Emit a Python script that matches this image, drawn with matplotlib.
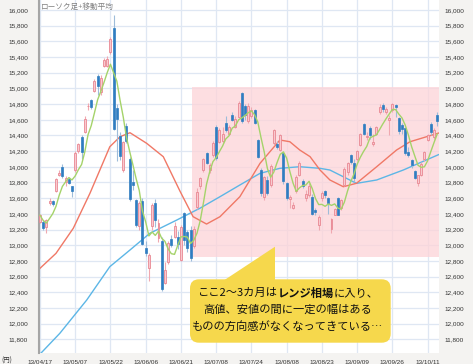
import matplotlib
matplotlib.use('Agg')
import matplotlib.pyplot as plt
from matplotlib.patches import FancyBboxPatch, Polygon, Rectangle
import numpy as np

plt.rcParams['font.family'] = ['Liberation Sans', 'Noto Sans CJK JP', 'DejaVu Sans']

# 日足データ (2013/04/17 ～ 2013/10/17)
tick_labels = ['13/04/17', '13/05/07', '13/05/22', '13/06/06', '13/06/21', '13/07/08',
               '13/07/24', '13/08/08', '13/08/23', '13/09/09', '13/09/26', '13/10/11']

opens = [13300, 13300, 13230, 13540, 13560, 13690, 13900, 14000, 13800, 13850,
         13750, 13960, 14200, 14380, 14450, 14770, 14850, 14970, 15155, 14960,
         15290, 15290, 15470, 15770, 14750, 14390, 13960, 14520, 14100, 13810,
         13580, 13240, 13570, 12960, 12710, 13240, 13540, 13090, 13050, 12520,
         12780, 13080, 13110, 13110, 12810, 13415, 13170, 13190, 12990, 13490,
         13750, 13960, 14170, 13960, 14150, 14510, 14320, 14330, 14560, 14420,
         14660, 14510, 14640, 14940, 14770, 14580, 14650, 14720, 14340, 13960,
         13620, 13830, 13770, 14300, 14290, 14220, 14170, 13790, 13590, 13480,
         13690, 13900, 13820, 13600, 13640, 13620, 13450, 13260, 13600, 13690,
         13600, 13210, 13390, 13600, 13480, 13770, 13930, 14150, 14050, 14100,
         14280, 14550, 14380, 14500, 14290, 14420, 14700, 14790, 14700, 14600,
         14720, 14790, 14620, 14530, 14500, 14190, 14090, 13950, 13790, 13900,
         14100, 14340, 14550, 14380, 14660]
highs = [13400, 13320, 13340, 13600, 13580, 13860, 13960, 14030, 13880, 13870,
         13760, 14200, 14310, 14400, 14650, 14820, 14870, 15120, 15180, 15170,
         15390, 15410, 15650, 15942, 14800, 14440, 14330, 14560, 14130, 13960,
         13590, 13560, 13600, 13050, 12900, 13540, 13590, 13340, 13100, 12780,
         13060, 13130, 13300, 13180, 13260, 13430, 13200, 13240, 13240, 13730,
         13870, 14110, 14190, 14050, 14330, 14530, 14500, 14510, 14650, 14530,
         14700, 14650, 14840, 14953, 14800, 14810, 14760, 14740, 14360, 13980,
         13880, 13880, 14030, 14480, 14330, 14420, 14180, 13800, 13640, 13550,
         13890, 14070, 13840, 13700, 13790, 13650, 13470, 13380, 13690, 13700,
         13620, 13350, 13480, 13620, 13590, 14000, 14060, 14160, 14100, 14220,
         14430, 14560, 14450, 14520, 14420, 14520, 14800, 14810, 14760, 14660,
         14817, 14800, 14640, 14560, 14510, 14250, 14100, 13960, 13900, 14060,
         14200, 14420, 14570, 14500, 14700]
lows = [13280, 13190, 13150, 13510, 13500, 13680, 13880, 13860, 13760, 13780,
        13620, 13940, 14180, 14100, 14430, 14720, 14740, 14950, 14920, 14920,
        15270, 15270, 15440, 14470, 14075, 14090, 13930, 14300, 13560, 13700,
        13230, 13200, 13000, 12860, 12548, 13200, 13230, 13040, 12415, 12500,
        12760, 12980, 13090, 12950, 12800, 13000, 12910, 12800, 12960, 13460,
        13720, 13940, 14040, 13920, 14130, 14090, 14300, 14300, 14450, 14400,
        14580, 14490, 14620, 14560, 14600, 14560, 14620, 14540, 14110, 13630,
        13580, 13640, 13740, 14280, 14230, 14200, 13780, 13580, 13480, 13460,
        13670, 13880, 13730, 13560, 13620, 13380, 13390, 13190, 13570, 13600,
        13400, 13150, 13380, 13380, 13450, 13750, 13900, 14040, 13800, 14080,
        14270, 14400, 14340, 14350, 14270, 14400, 14680, 14700, 14680, 14400,
        14700, 14640, 14420, 14420, 14150, 14120, 13990, 13840, 13750, 13880,
        14080, 14330, 14400, 14360, 14520]
closes = [13382, 13220, 13316, 13568, 13529, 13843, 13926, 13884, 13860, 13799,
          13694, 14180, 14285, 14191, 14607, 14782, 14758, 15096, 15037, 15138,
          15360, 15381, 15627, 14483, 14612, 14142, 14311, 14326, 13589, 13774,
          13262, 13533, 13014, 12904, 12877, 13514, 13317, 13289, 12445, 12686,
          13033, 13007, 13245, 13014, 13230, 13062, 12969, 12834, 13213, 13677,
          13852, 14099, 14055, 14018, 14309, 14109, 14472, 14416, 14472, 14506,
          14599, 14615, 14808, 14589, 14658, 14778, 14731, 14562, 14129, 13661,
          13869, 13668, 14005, 14466, 14258, 14401, 13824, 13605, 13615, 13519,
          13869, 14050, 13752, 13650, 13758, 13396, 13424, 13365, 13660, 13636,
          13542, 13338, 13459, 13389, 13572, 13978, 14053, 14065, 13861, 14205,
          14423, 14425, 14387, 14404, 14311, 14505, 14766, 14742, 14732, 14620,
          14799, 14760, 14455, 14484, 14170, 14157, 14024, 13853, 13894, 14037,
          14194, 14404, 14441, 14467, 14586]
prior_closes = [13549, 13485, 13275, 13221]

# 25日・75日移動平均 (チャートから読み取り)
ma25_pos = [0, 5, 10.4, 15.6, 21.8, 25, 28.1, 33.3, 38.5, 43.7, 47.8, 52, 56.2,
            62.4, 68.7, 74.9, 78, 81.1, 84.3, 87.4, 90.5, 94.7, 98.8, 105.1,
            111.3, 115.5, 124.4]
ma25_val = [12705, 12896, 13216, 13662, 14256, 14384, 14435, 14300, 14129, 13690,
            13364, 13270, 13364, 13619, 14045, 14342, 14320, 14214, 14130, 13960,
            13832, 13746, 13790, 14001, 14214, 14320, 14430]
ma75_pos = [0, 6.2, 14.6, 21.8, 28.1, 34.3, 42.7, 46.8, 49.9, 56.2, 62.4, 68.7,
            74.9, 81.1, 87.4, 90.5, 98.8, 105.1, 113.4, 124.4]
ma75_val = [11610, 11876, 12301, 12726, 12939, 13152, 13321, 13407, 13471, 13619,
            13768, 13917, 13981, 14001, 13981, 13959, 13789, 13832, 13959, 14155]

range_box = (47.5, 124.4, 12850, 15020)

W, H = 473, 364
fig = plt.figure(figsize=(W / 100, H / 100), dpi=100, facecolor='#f4f3f1')
ax = fig.add_axes([39 / W, 11 / H, 399.5 / W, 353 / H])
ax.set_facecolor('white')

x = np.arange(len(closes))
o, h, l, c = (np.array(v, dtype=float) for v in (opens, highs, lows, closes))
up = c >= o
dn = ~up

# グリッド
yticks = np.arange(11800, 16001, 200)
ax.set_yticks(yticks)
ax.set_xticks(np.arange(0, 122, 11))
ax.grid(True, color='#dfe7f3', lw=0.9, zorder=0)
ax.set_axisbelow(True)

# レンジ
ax.add_patch(Rectangle((range_box[0], range_box[2]), range_box[1] - range_box[0],
                       range_box[3] - range_box[2], facecolor='#fdd3d8', alpha=0.75,
                       edgecolor='none', zorder=1))

# 移動平均
full = np.concatenate([prior_closes, c])
ma5 = np.convolve(full, np.ones(5) / 5, mode='valid')
ax.plot(ma75_pos, ma75_val, color='#5cb6e6', lw=1.0, zorder=2)
ax.plot(ma25_pos, ma25_val, color='#f07866', lw=1.0, zorder=2)

# ローソク足
bw = 0.62
ax.vlines(x[up], l[up], h[up], color='#f0a8b0', lw=0.8, zorder=3)
ax.vlines(x[dn], l[dn], h[dn], color='#9ebcda', lw=0.8, zorder=3)
ax.bar(x[up], np.maximum(c[up] - o[up], 12), bottom=o[up], width=bw,
       color='#f9c9cf', edgecolor='#e98893', lw=0.6, zorder=4)
ax.bar(x[dn], np.maximum(o[dn] - c[dn], 12), bottom=c[dn], width=bw,
       color='#2f7dc1', edgecolor='#2f7dc1', lw=0.5, zorder=4)
ax.plot(x, ma5, color='#a5d36a', lw=1.0, zorder=5)

ax.set_xlim(-0.3, 124.4)
ax.set_ylim(11625, 16128)
ax.set_xticklabels(tick_labels)
ax.set_yticklabels([f'{v:,}' for v in yticks])
ax.tick_params(length=0, labelsize=4.6, labelcolor='#333333')
ax.tick_params(axis='y', pad=8)
ax.tick_params(axis='x', pad=5)
for s in ['top', 'right', 'bottom']:
    ax.spines[s].set_visible(False)
ax.spines['left'].set_color('#a5a5a5')
ax.spines['left'].set_linewidth(1.5)

ax2 = ax.twinx()
ax2.set_ylim(ax.get_ylim())
ax2.set_yticks(yticks)
ax2.set_yticklabels([f'{v:,}' for v in yticks])
ax2.tick_params(length=0, labelsize=4.6, labelcolor='#333333', pad=4)
for s in ax2.spines.values():
    s.set_visible(False)

ax.text(0.004, 0.993, 'ローソク足+移動平均', transform=ax.transAxes, ha='left', va='top',
        fontsize=5.5, color='#808080', family=['Noto Sans CJK JP', 'DejaVu Sans'], zorder=6)

# 吹き出し (ピクセル座標)
ov = fig.add_axes([0, 0, 1, 1])
ov.set_xlim(0, W)
ov.set_ylim(H, 0)
ov.axis('off')
ov.patch.set_visible(False)
ov.add_patch(Polygon([(223, 281), (275, 246.7), (275, 281)], closed=True,
                     facecolor='#f6d84c', edgecolor='none'))
ov.add_patch(FancyBboxPatch((190, 279.3), 200.7, 63.4,
                            boxstyle='round,pad=0,rounding_size=9',
                            facecolor='#f6d84c', edgecolor='none'))
ov.text(1.5, 361, '(円)', fontsize=4.6, color='#333333', ha='left', va='center',
        family=['Noto Sans CJK JP', 'DejaVu Sans'])

jp = ['Noto Sans CJK JP', 'DejaVu Sans']
fs = 8.1
cx = 288
renderer = fig.canvas.get_renderer()
parts = [('ここ2～3カ月は', 'normal'), ('レンジ相場', 'bold'), ('に入り、', 'normal')]
texts = [ov.text(0, 293.3, s, fontsize=fs, fontweight=wt, family=jp,
                 ha='left', va='center', color='#111111') for s, wt in parts]
widths = [t.get_window_extent(renderer=renderer).width for t in texts]
xpos = cx - sum(widths) / 2
for t, w in zip(texts, widths):
    t.set_x(xpos)
    xpos += w
ov.text(cx, 310, '高値、安値の間に一定の幅はある', fontsize=fs, family=jp,
        ha='center', va='center', color='#111111')
ov.text(cx, 326.7, 'ものの方向感がなくなってきている…', fontsize=fs, family=jp,
        ha='center', va='center', color='#111111')

fig.savefig('out.png', dpi=100, facecolor=fig.get_facecolor())
